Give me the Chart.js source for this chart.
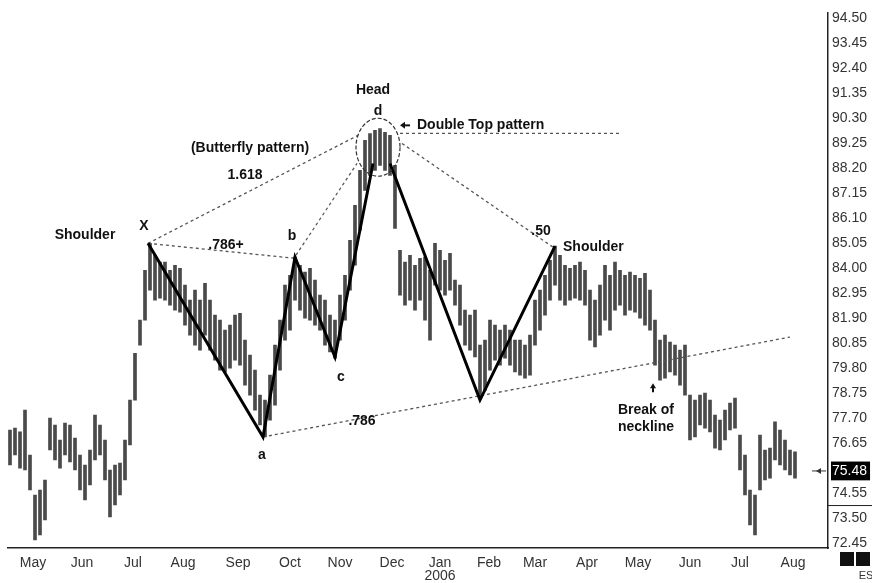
<!DOCTYPE html>
<html><head><meta charset="utf-8">
<script src="https://cdn.jsdelivr.net/npm/chart.js@4.4.1/dist/chart.umd.min.js"></script>
<style>html,body{margin:0;padding:0;background:#fff;}canvas{display:block;}</style>
</head><body>
<canvas id="c" width="872" height="583"></canvas>
<script>
// ---- data (bar index = consecutive trading-bar slots, May 2005 .. Aug 2006) ----
const highs = [
 77.20,77.28,77.12,78.04,76.15,74.47,74.68,75.10,77.70,77.41,
 76.78,77.49,77.41,76.86,76.15,75.73,76.36,77.83,77.41,76.78,
 75.52,75.73,75.81,76.78,78.46,80.43,81.82,83.92,85.05,84.55,
 84.26,84.26,83.92,84.13,84.00,83.29,82.66,83.08,82.66,83.37,
 82.66,82.03,81.82,81.40,81.61,82.03,82.11,80.98,80.35,79.72,
 78.67,78.46,79.51,80.77,81.82,83.29,83.71,84.47,84.13,83.84,
 84.00,83.50,82.87,82.66,82.03,81.82,82.87,83.71,85.18,86.65,
 88.12,89.38,89.67,89.80,89.88,89.72,89.59,88.33,84.76,84.26,
 84.55,84.13,84.42,84.47,83.92,85.05,84.76,84.34,84.63,83.50,
 83.29,82.24,82.03,82.24,80.77,80.98,81.82,81.61,81.40,81.61,
 81.40,80.98,80.98,80.77,81.19,82.66,83.08,83.71,84.34,84.93,
 84.55,84.13,84.00,84.13,84.26,83.92,83.08,82.66,83.29,84.13,
 83.71,84.26,83.92,83.71,83.84,83.71,83.58,83.79,83.08,81.82,
 80.98,81.19,80.90,80.77,80.56,80.77,78.67,78.46,78.67,78.75,
 78.46,77.83,77.62,78.04,78.33,78.54,76.99,76.15,74.68,74.47,
 76.99,76.36,76.44,77.54,77.20,76.78,76.36,76.28
];
const lows = [
 75.73,76.15,75.60,75.52,74.68,72.58,72.79,73.42,76.36,75.94,
 75.60,76.15,75.86,75.52,74.68,74.26,74.89,75.94,76.15,75.10,
 73.55,74.05,74.47,75.10,76.57,78.46,80.77,81.82,83.08,82.66,
 82.74,82.66,82.45,82.24,82.16,81.61,81.19,80.77,80.56,81.19,
 80.56,80.14,79.72,79.64,79.80,80.14,79.93,79.09,78.67,78.04,
 77.41,76.91,77.62,78.25,79.72,80.98,81.40,82.66,82.24,81.90,
 81.82,81.61,81.40,80.77,80.48,80.22,80.98,81.82,83.08,84.13,
 85.60,87.28,87.91,88.12,88.33,88.12,87.91,85.68,82.87,82.45,
 82.66,82.24,82.66,81.82,80.98,83.29,83.08,82.87,83.08,82.45,
 81.61,80.77,80.56,80.27,78.54,78.88,79.72,80.14,79.93,80.22,
 79.93,79.64,79.51,79.38,79.51,80.77,81.40,82.03,82.66,83.29,
 82.66,82.45,82.66,82.74,82.66,82.45,80.98,80.69,81.19,81.82,
 81.40,82.24,82.45,82.03,82.24,82.16,81.90,81.61,81.40,79.93,
 79.30,79.38,79.64,79.51,79.09,78.67,76.78,76.91,77.41,77.28,
 77.12,76.44,76.36,76.78,77.20,77.28,75.52,74.47,73.21,72.79,
 74.68,75.10,75.18,75.94,75.73,75.52,75.31,75.18
];
const monthLabels = ["May","Jun","Jul","Aug","Sep","Oct","Nov","Dec",["Jan","2006"],"Feb","Mar","Apr","May","Jun","Jul","Aug"];
const monthPos = [4.6,14.4,24.6,34.6,45.6,56,66,76.4,86,95.8,105,115.4,125.6,136,146,156.6];
const priceTicks = [72.45,73.50,74.55,75.48,76.65,77.70,78.75,79.80,80.85,81.90,82.95,84.00,85.05,86.10,87.15,88.20,89.25,90.30,91.35,92.40,93.45,94.50];
const lastPrice = 75.48;
const yRange = [72.24, 94.76];
const xRange = [-0.4, 163.6];

// pattern pivots (bar index, price)
const legXabc = [{x:27.6,y:85.05},{x:50.6,y:76.91},{x:57,y:84.47},{x:65,y:80.27},{x:72.6,y:88.41}];
const legRight = [{x:76,y:88.41},{x:94,y:78.46},{x:109,y:84.93}];
const dotX_d = [{x:27.6,y:85.05},{x:69.6,y:89.59}];
const dotX_b = [{x:27.6,y:85.05},{x:57,y:84.42}];
const dotNeck = [{x:50.6,y:76.91},{x:156,y:81.11}];
const dotB_d = [{x:57.2,y:84.55},{x:69.4,y:88.41}];
const dotD_sh = [{x:78.4,y:89.25},{x:108.6,y:84.89}];
const dotTop = [{x:78,y:89.67},{x:122.4,y:89.67}];
const headCircle = {x:73.6, y:89.09, rx:4.4, ry:1.22};

const noteText = ["Head","d","Double Top pattern","(Butterfly pattern)","1.618","X","Shoulder",".786+","b","c","a",".786",".50","Shoulder","Break of","neckline"];
const noteX    = [72.6, 73.6, 81.4, 48, 47, 26.8, 15, 43.2, 56.4, 66.2, 50.4, 70.4, 106.2, 110.6, 127.2, 127.2];
const noteY    = [91.48,90.60,90.01,89.04,87.91,85.77,85.39,84.97,85.35,79.43,76.15,77.58,85.56,84.89,78.04,77.33];
const noteAlign= ["center","center","left","center","center","center","center","center","center","center","center","center","center","left","center","center"];

const dotted = {type:'line', borderColor:'#555', borderWidth:1.3, borderDash:[3,3], pointRadius:0, fill:false, order:2};
const solid = {type:'line', borderColor:'#000', borderWidth:3, pointRadius:0, fill:false, order:1};

const annot = {
  id:'annot',
  afterDatasetsDraw(chart){
    const {ctx, scales:{x,y}, chartArea:ca} = chart;
    ctx.save();
    // head circle
    const cx = x.getPixelForValue(headCircle.x), cy = y.getPixelForValue(headCircle.y);
    const rx = Math.abs(x.getPixelForValue(headCircle.x+headCircle.rx)-cx);
    const ry = Math.abs(y.getPixelForValue(headCircle.y+headCircle.ry)-cy);
    ctx.beginPath(); ctx.ellipse(cx,cy,rx,ry,0,0,Math.PI*2);
    ctx.strokeStyle='#333'; ctx.lineWidth=1.2; ctx.setLineDash([4,2]); ctx.stroke(); ctx.setLineDash([]);
    // notes
    ctx.font='bold 14px "Liberation Sans", Arial, sans-serif';
    ctx.fillStyle='#111'; ctx.textBaseline='middle';
    noteText.forEach((t,i)=>{ctx.textAlign=noteAlign[i]; ctx.fillText(t, x.getPixelForValue(noteX[i]), y.getPixelForValue(noteY[i]));});
    // left arrow before "Double Top pattern"
    const ay = y.getPixelForValue(90.01), ax0 = x.getPixelForValue(78), ax1 = x.getPixelForValue(80);
    ctx.lineWidth=2; ctx.strokeStyle='#111';
    ctx.beginPath(); ctx.moveTo(ax1,ay); ctx.lineTo(ax0+3,ay); ctx.stroke();
    ctx.beginPath(); ctx.moveTo(ax0,ay); ctx.lineTo(ax0+5,ay-3.5); ctx.lineTo(ax0+5,ay+3.5); ctx.closePath(); ctx.fill();
    // up arrow (break of neckline)
    const ux = x.getPixelForValue(128.6), uy0 = y.getPixelForValue(78.79), uy1 = y.getPixelForValue(79.17);
    ctx.beginPath(); ctx.moveTo(ux,uy0); ctx.lineTo(ux,uy1+3); ctx.stroke();
    ctx.beginPath(); ctx.moveTo(ux,uy1); ctx.lineTo(ux-3,uy1+5); ctx.lineTo(ux+3,uy1+5); ctx.closePath(); ctx.fill();
    // last price pointer
    const py = y.getPixelForValue(lastPrice);
    ctx.lineWidth=1; ctx.strokeStyle='#333';
    ctx.beginPath(); ctx.moveTo(ca.right-16,py); ctx.lineTo(ca.right-2,py); ctx.stroke();
    ctx.beginPath(); ctx.moveTo(ca.right-12,py); ctx.lineTo(ca.right-7,py-3); ctx.lineTo(ca.right-7,py+3); ctx.closePath(); ctx.fillStyle='#333'; ctx.fill();
    // separator in price column
    const sy = y.getPixelForValue((73.50+74.55)/2);
    ctx.beginPath(); ctx.moveTo(ca.right,sy); ctx.lineTo(chart.width,sy); ctx.strokeStyle='#222'; ctx.stroke();
    // corner boxes
    ctx.fillStyle='#111';
    ctx.fillRect(ca.right+12, ca.bottom+4, 14, 14);
    ctx.fillRect(ca.right+28, ca.bottom+4, 14, 14);
    ctx.font='11px "Liberation Sans", Arial, sans-serif'; ctx.textAlign='center'; ctx.fillStyle='#333';
    ctx.fillText('ES', ca.right+38, ca.bottom+28);
    ctx.restore();
  }
};

new Chart(document.getElementById('c'), {
  type:'bar',
  data:{datasets:[
    {type:'bar', data: highs.map((h,i)=>({x:i, y:[lows[i],h]})), backgroundColor:'#4a4a4a', barThickness:3, borderSkipped:false, order:10},
    Object.assign({data:legXabc}, solid),
    Object.assign({data:legRight}, solid),
    Object.assign({data:dotX_d}, dotted),
    Object.assign({data:dotX_b}, dotted),
    Object.assign({data:dotNeck}, dotted),
    Object.assign({data:dotB_d}, dotted),
    Object.assign({data:dotD_sh}, dotted),
    Object.assign({data:dotTop}, dotted)
  ]},
  options:{
    responsive:false, animation:false,
    layout:{padding:{left:8, top:12, right:0, bottom:0}},
    plugins:{legend:{display:false}, tooltip:{enabled:false}},
    scales:{
      x:{type:'linear', min:xRange[0], max:xRange[1], offset:false,
        grid:{color:'transparent', drawTicks:false},
        border:{display:true, color:'#222', width:1.5},
        afterBuildTicks:s=>{s.ticks = monthPos.map(v=>({value:v}));},
        afterFit:s=>{s.height=35;},
        ticks:{autoSkip:false, maxRotation:0, padding:8, color:'#333',
          font:{family:'"Liberation Sans", Arial, sans-serif', size:14, lineHeight:0.95},
          callback:(v,i)=>monthLabels[i]}
      },
      y:{type:'linear', position:'right', min:yRange[0], max:yRange[1],
        grid:{color:'transparent', drawTicks:false},
        border:{display:true, color:'#222', width:1.5},
        afterBuildTicks:s=>{s.ticks = priceTicks.map(v=>({value:v}));},
        afterFit:s=>{s.width=44;},
        ticks:{padding:4, color:c=>(c.tick && c.tick.value===lastPrice)?'#fff':'#333',
          showLabelBackdrop:c=>!!(c.tick && c.tick.value===lastPrice),
          backdropColor:'#000', backdropPadding:{top:1,bottom:1,left:1,right:3},
          font:{family:'"Liberation Sans", Arial, sans-serif', size:14},
          callback:v=>v.toFixed(2)}
      }
    }
  },
  plugins:[annot]
});
</script>
</body></html>
